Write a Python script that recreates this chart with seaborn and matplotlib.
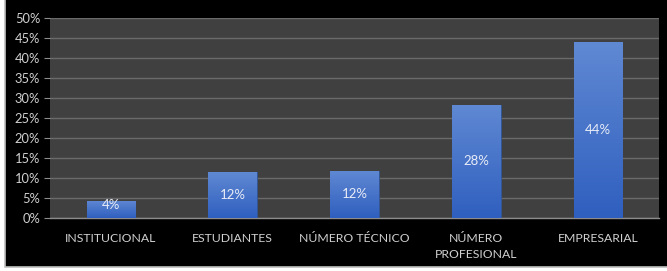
import numpy as np
import pandas as pd
import matplotlib
matplotlib.use("Agg")
from matplotlib import pyplot as plt
from matplotlib.patches import Rectangle
from matplotlib.ticker import MultipleLocator, PercentFormatter
import seaborn as sns

categories = ["INSTITUCIONAL", "ESTUDIANTES", "NÚMERO TÉCNICO", "NÚMERO\nPROFESIONAL", "EMPRESARIAL"]
values = [4.3, 11.4, 11.8, 28.3, 44.0]
labels = ["4%", "12%", "12%", "28%", "44%"]

df = pd.DataFrame({"cat": categories, "val": values})

sns.set_style("dark")
plt.rcParams["font.family"] = ["Lato", "DejaVu Sans"]

fig = plt.figure(figsize=(6.67, 2.71), dpi=100, facecolor="white")
# black panel with the thin frame around it
fig.patches.append(Rectangle((5 / 667, 4 / 271), 1, 1, transform=fig.transFigure,
                             facecolor="black", edgecolor="#bfbfbf", lw=1.2, zorder=-10))

ax = fig.add_axes([50 / 667, (271 - 218) / 271, 609 / 667, 200 / 271])
ax.set_facecolor("#404040")

sns.barplot(data=df, x="cat", y="val", color="#4472c4", width=0.4, ax=ax,
            edgecolor="#2f5597", linewidth=0.6, zorder=3)

# vertical gradient on each bar
grad = np.linspace(0, 1, 256).reshape(-1, 1)
cmap = matplotlib.colors.LinearSegmentedColormap.from_list("g", ["#2f5fbf", "#6089d3"])
for p in ax.patches:
    x0, y0 = p.get_x(), p.get_y()
    w, h = p.get_width(), p.get_height()
    im = ax.imshow(grad, cmap=cmap, aspect="auto", origin="lower",
                   extent=(x0, x0 + w, y0, y0 + h), zorder=4)
    im.set_clip_path(p)

for i, (v, lab) in enumerate(zip(values, labels)):
    ax.text(i, max(v / 2, 3.2), lab, ha="center", va="center", color="#e8ecf6",
            fontsize=9.5, zorder=6)

ax.set_xlim(-0.5, 4.5)
ax.set_ylim(0, 50)
ax.yaxis.set_major_locator(MultipleLocator(5))
ax.yaxis.set_major_formatter(PercentFormatter(decimals=0))
ax.grid(axis="y", color="#6a6a6a", lw=1, zorder=0)
ax.grid(axis="x", visible=False)
ax.set_axisbelow(True)

ax.set_xticks(range(5))
ax.set_xticklabels(categories, linespacing=1.5)
ax.set_xticks(np.arange(-0.5, 5, 1), minor=True)
ax.tick_params(axis="x", which="major", length=0, pad=11, colors="#d0d0d0", labelsize=8.8)
ax.tick_params(axis="x", which="minor", length=4, color="#8c8c8c", direction="out")
ax.tick_params(axis="y", length=4, color="#8c8c8c", colors="#d0d0d0", labelsize=9.3, pad=3,
               left=True)
ax.set_xlabel("")
ax.set_ylabel("")

for s in ["top", "right"]:
    ax.spines[s].set_visible(False)
ax.spines["left"].set_visible(False)
ax.spines["bottom"].set_color("#8c8c8c")
ax.spines["bottom"].set_linewidth(1)

fig.savefig("out.png", dpi=100, facecolor="white")
